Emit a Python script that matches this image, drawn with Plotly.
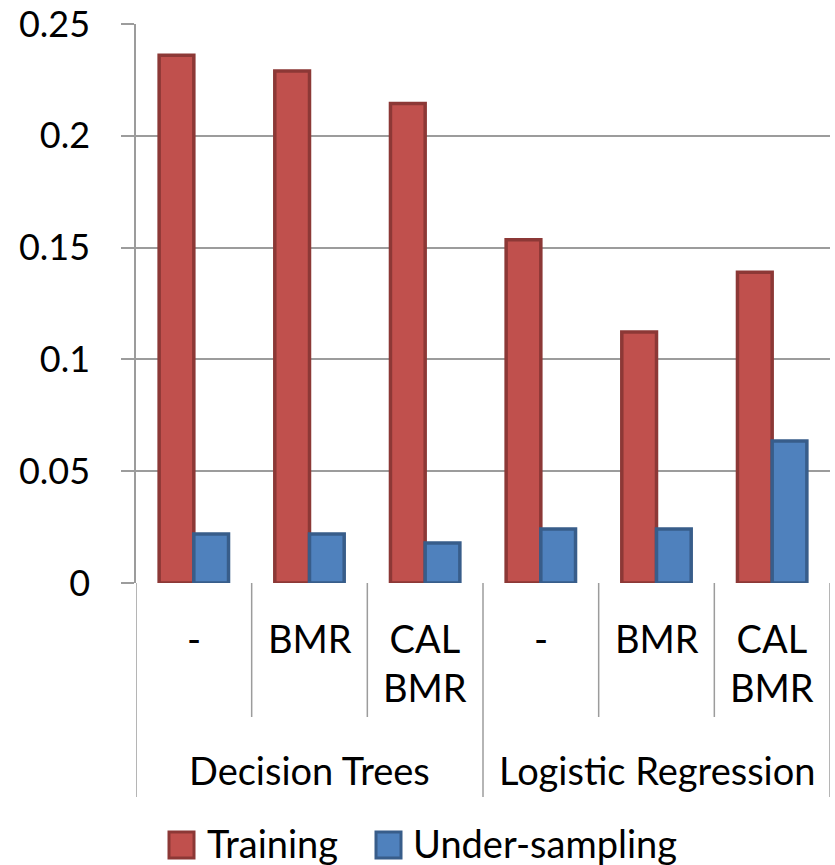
import plotly.graph_objects as go

groups = ["Decision Trees", "Decision Trees", "Decision Trees",
          "Logistic Regression", "Logistic Regression", "Logistic Regression"]
methods = ["-", "BMR", "CAL<br>BMR", "-", "BMR", "CAL<br>BMR"]
training = [0.236, 0.229, 0.2145, 0.1535, 0.1122, 0.139]
undersampling = [0.0219, 0.0219, 0.0179, 0.0241, 0.0241, 0.0635]
y_ticks = [0, 0.05, 0.1, 0.15, 0.2, 0.25]
y_ticklabels = ["0", "0.05", "0.1", "0.15", "0.2", "0.25"]
series_names = ["Training", "Under-sampling"]

FONT = "Lato"
FS = 38
FS_Y = 36
RED, RED_LINE = "#C0504D", "#8C3836"
BLUE, BLUE_LINE = "#4F81BD", "#385D8A"
GRID = "#9c9c9c"

keys = [f"{g}|{m}" for g, m in zip(groups, methods)]

fig = go.Figure()
fig.add_trace(go.Bar(x=keys, y=training, name=series_names[0],
                     marker=dict(color=RED, line=dict(color=RED_LINE, width=3.5))))
fig.add_trace(go.Bar(x=keys, y=undersampling, name=series_names[1],
                     marker=dict(color=BLUE, line=dict(color=BLUE_LINE, width=3.5))))

fig.update_layout(
    width=835, height=865,
    margin=dict(l=136, r=5, t=24, b=282, autoexpand=False),
    paper_bgcolor="white", plot_bgcolor="white",
    barmode="group", bargap=0.4, bargroupgap=0,
    showlegend=False,
    font=dict(family=FONT, size=FS, color="black"),
)
fig.update_yaxes(range=[0, 0.25], tickvals=y_ticks, ticktext=y_ticklabels,
                 showgrid=True, gridcolor=GRID, gridwidth=1.5,
                 showline=True, linecolor=GRID, linewidth=1.5,
                 ticks="outside", ticklen=13, tickcolor=GRID, tickwidth=1.5,
                 ticklabelstandoff=24, zeroline=False, automargin=False,
                 tickfont=dict(family=FONT, size=FS_Y))
fig.update_xaxes(type="category", showticklabels=False, showgrid=False,
                 showline=False, ticks="", zeroline=False, automargin=False,
                 range=[-0.5, len(keys) - 0.5])

H = 559.0
shapes = []
n = len(keys)
for b in range(n + 1):
    xb = b - 0.5
    major = b == 0 or b == n or groups[b] != groups[b - 1]
    depth = 214 if major else 134
    shapes.append(dict(type="line", xref="x", yref="paper", x0=xb, x1=xb,
                       y0=0, y1=-depth / H, line=dict(color=GRID, width=1.5)))

annotations = []
for i, m in enumerate(methods):
    annotations.append(dict(x=i, y=0, xref="x", yref="paper", text=m,
                            showarrow=False, xanchor="center", yanchor="top",
                            yshift=-30, font=dict(family=FONT, size=FS)))
seen = []
for g in groups:
    if g not in seen:
        seen.append(g)
for g in seen:
    idx = [i for i, gg in enumerate(groups) if gg == g]
    xc = sum(idx) / len(idx)
    annotations.append(dict(x=xc, y=0, xref="x", yref="paper", text=g,
                            showarrow=False, xanchor="center", yanchor="middle",
                            yshift=-187, font=dict(family=FONT, size=FS)))

# manual legend
W = 694.0
def px_x(p):
    return (p - 136) / W
def px_y(p):
    return (583 - p) / H

for (x0, x1, txt_x, fill, line, name) in [
    (169, 194, 205, RED, RED_LINE, series_names[0]),
    (376, 401, 411, BLUE, BLUE_LINE, series_names[1]),
]:
    shapes.append(dict(type="rect", xref="paper", yref="paper",
                       x0=px_x(x0), x1=px_x(x1), y0=px_y(832), y1=px_y(858),
                       fillcolor=fill, line=dict(color=line, width=3)))
    annotations.append(dict(x=px_x(txt_x), y=px_y(843), xref="paper", yref="paper",
                            text=name, showarrow=False, xanchor="left",
                            yanchor="middle", font=dict(family=FONT, size=FS)))

fig.update_layout(shapes=shapes, annotations=annotations)
fig.write_html("out.html")
